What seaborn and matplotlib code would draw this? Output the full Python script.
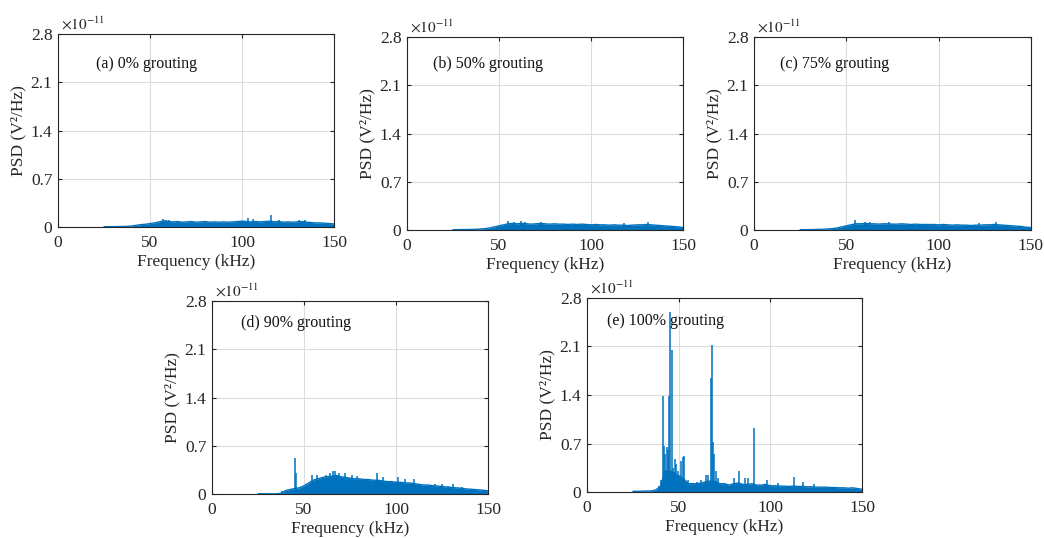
"""PSD spectra for five grouting levels (MATLAB-style panels)."""

import matplotlib
matplotlib.use("Agg")
import matplotlib.pyplot as plt
import numpy as np
import pandas as pd
import seaborn as sns

sns.set_theme(style="ticks")
plt.rcParams["font.family"] = ["Liberation Serif", "DejaVu Serif"]
plt.rcParams["mathtext.fontset"] = "stix"

LINE_COLOR = "#0072BD"

# frequency grid of the smooth part of each spectrum (kHz)
freq = np.arange(25, 150.1, 2.5)

# base PSD level (x1e-11 V^2/Hz) on the grid above
psd_a = [0.005, 0.005, 0.006, 0.007, 0.008, 0.01, 0.015, 0.025, 0.035, 0.04,
         0.05, 0.06, 0.075, 0.09, 0.08, 0.075, 0.08, 0.07, 0.075, 0.08,
         0.07, 0.075, 0.08, 0.07, 0.075, 0.07, 0.075, 0.07, 0.075, 0.08,
         0.085, 0.08, 0.075, 0.08, 0.075, 0.08, 0.085, 0.075, 0.08, 0.07,
         0.075, 0.07, 0.075, 0.08, 0.07, 0.065, 0.06, 0.06, 0.055, 0.05, 0.045]
psd_b = [0.005, 0.005, 0.006, 0.007, 0.008, 0.01, 0.015, 0.02, 0.03, 0.045,
         0.06, 0.075, 0.09, 0.095, 0.09, 0.095, 0.09, 0.085, 0.09, 0.095,
         0.09, 0.085, 0.09, 0.085, 0.085, 0.08, 0.085, 0.08, 0.085, 0.08,
         0.075, 0.08, 0.075, 0.075, 0.07, 0.075, 0.07, 0.07, 0.065, 0.07,
         0.075, 0.075, 0.08, 0.075, 0.07, 0.065, 0.06, 0.055, 0.05, 0.045, 0.035]
psd_c = [0.005, 0.005, 0.006, 0.007, 0.008, 0.01, 0.015, 0.02, 0.03, 0.045,
         0.06, 0.075, 0.09, 0.09, 0.095, 0.09, 0.09, 0.085, 0.09, 0.09,
         0.085, 0.085, 0.09, 0.085, 0.08, 0.085, 0.08, 0.08, 0.08, 0.08,
         0.075, 0.08, 0.075, 0.07, 0.075, 0.07, 0.07, 0.065, 0.07, 0.07,
         0.075, 0.075, 0.08, 0.075, 0.07, 0.065, 0.06, 0.055, 0.05, 0.04, 0.035]
psd_d = [0.003, 0.003, 0.003, 0.003, 0.003, 0.01, 0.05, 0.065, 0.08, 0.09,
         0.12, 0.16, 0.2, 0.22, 0.24, 0.25, 0.26, 0.27, 0.25, 0.24,
         0.23, 0.22, 0.22, 0.21, 0.21, 0.2, 0.2, 0.19, 0.18, 0.18,
         0.17, 0.17, 0.16, 0.16, 0.15, 0.14, 0.13, 0.13, 0.12, 0.115,
         0.11, 0.1, 0.095, 0.09, 0.085, 0.075, 0.07, 0.065, 0.06, 0.055, 0.045]
psd_e = [0.01, 0.01, 0.012, 0.014, 0.015, 0.03, 0.08, 0.3, 0.3, 0.28,
         0.22, 0.2, 0.12, 0.12, 0.12, 0.13, 0.15, 0.16, 0.15, 0.12,
         0.12, 0.1, 0.12, 0.13, 0.11, 0.11, 0.12, 0.1, 0.1, 0.11,
         0.09, 0.09, 0.085, 0.085, 0.08, 0.085, 0.08, 0.08, 0.075, 0.075,
         0.07, 0.07, 0.07, 0.065, 0.065, 0.06, 0.06, 0.055, 0.06, 0.05, 0.04]

# narrow spectral peaks: frequency (kHz) and height (x1e-11)
peak_f_a = [57, 58.5, 60.5, 103, 106, 115.5, 120, 131, 134]
peak_v_a = [0.11, 0.1, 0.1, 0.13, 0.11, 0.17, 0.1, 0.1, 0.1]
peak_f_b = [55, 58, 62, 64, 73, 118, 131]
peak_v_b = [0.135, 0.12, 0.125, 0.12, 0.12, 0.105, 0.12]
peak_f_c = [54.5, 60, 63, 73, 122, 131]
peak_v_c = [0.14, 0.12, 0.12, 0.12, 0.1, 0.12]
peak_f_d = [38, 45, 45.5, 54.5, 57, 62, 64, 65.5, 67, 69, 72, 76, 79, 89.5,
            93, 101, 105, 110, 121, 125, 128, 131, 136]
peak_v_d = [0.04, 0.52, 0.3, 0.28, 0.27, 0.28, 0.3, 0.33, 0.33, 0.3, 0.31, 0.27,
            0.26, 0.3, 0.25, 0.25, 0.22, 0.22, 0.15, 0.14, 0.12, 0.14, 0.1]
peak_f_e = [39.5, 40.5, 41.5, 42, 42.7, 43.5, 44.3, 44.8, 45.5, 46.1, 46.8, 48,
            48.6, 49.5, 50.5, 51.5, 52.5, 53, 55, 60, 62, 65, 66, 67.7, 68.3,
            68.9, 69.5, 70.5, 71.5, 80, 83, 86, 88, 91, 98, 104, 113, 118, 124]
peak_v_e = [0.08, 0.17, 1.38, 0.66, 0.55, 0.65, 0.6, 1.38, 2.6, 2.05, 0.35, 0.47,
            0.4, 0.3, 0.25, 0.45, 0.5, 0.52, 0.18, 0.15, 0.18, 0.25, 0.24, 1.65,
            2.12, 0.72, 0.55, 0.3, 0.2, 0.2, 0.3, 0.2, 0.2, 0.92, 0.17, 0.13,
            0.22, 0.15, 0.12]

labels = ["(a) 0% grouting", "(b) 50% grouting", "(c) 75% grouting",
          "(d) 90% grouting", "(e) 100% grouting"]
x_ticks = [0, 50, 100, 150]
y_ticks = [0, 0.7, 1.4, 2.1, 2.8]
y_tick_labels = ["0", "0.7", "1.4", "2.1", "2.8"]

panels = [
    (psd_a, peak_f_a, peak_v_a, [0.0556, 0.578, 0.2644, 0.3587], (0.137, 0.845)),
    (psd_b, peak_f_b, peak_v_b, [0.3898, 0.5725, 0.2644, 0.3587], (0.094, 0.86)),
    (psd_c, peak_f_c, peak_v_c, [0.7222, 0.5725, 0.2653, 0.3587], (0.094, 0.86)),
    (psd_d, peak_f_d, peak_v_d, [0.2031, 0.0818, 0.2644, 0.3587], (0.104, 0.886)),
    (psd_e, peak_f_e, peak_v_e, [0.5623, 0.0855, 0.2634, 0.3606], (0.073, 0.883)),
]

fig = plt.figure(figsize=(10.44, 5.38), dpi=100)

for (psd, pf, pv, rect, lab_pos), label in zip(panels, labels):
    ax = fig.add_axes(rect)
    df = pd.DataFrame({"freq": freq, "psd": psd})
    ax.fill_between(df["freq"], 0, df["psd"], color=LINE_COLOR, lw=0)
    sns.lineplot(data=df, x="freq", y="psd", color=LINE_COLOR, lw=1.0, ax=ax)
    ax.vlines(pf, 0, pv, color=LINE_COLOR, lw=1.1)

    ax.set_xlim(0, 150)
    ax.set_ylim(0, 2.8)
    ax.set_xticks(x_ticks)
    ax.set_yticks(y_ticks)
    ax.set_yticklabels(y_tick_labels)
    ax.grid(True, color="#dcdcdc", lw=0.8)
    ax.set_axisbelow(True)
    ax.tick_params(direction="in", length=3, width=0.8, labelsize=12.5,
                   top=True, right=True, colors="#262626")
    ax.tick_params(axis="x", pad=6)
    ax.tick_params(axis="y", pad=4)
    for sp in ax.spines.values():
        sp.set_color("#262626")
        sp.set_linewidth(0.8)
    ax.set_xlabel("Frequency (kHz)", fontsize=12.5, labelpad=2, color="#262626")
    ax.set_ylabel("PSD (V²/Hz)", fontsize=12.5, labelpad=3, color="#262626")
    ax.text(lab_pos[0], lab_pos[1], label, transform=ax.transAxes,
            fontsize=11.5, va="center", ha="left", color="#111111")
    ax.annotate(r"$\times10^{-11}$", xy=(0, 1), xycoords="axes fraction",
                xytext=(2, 1), textcoords="offset points",
                fontsize=11, ha="left", va="bottom", color="#262626")

fig.savefig("out.png", dpi=100)
